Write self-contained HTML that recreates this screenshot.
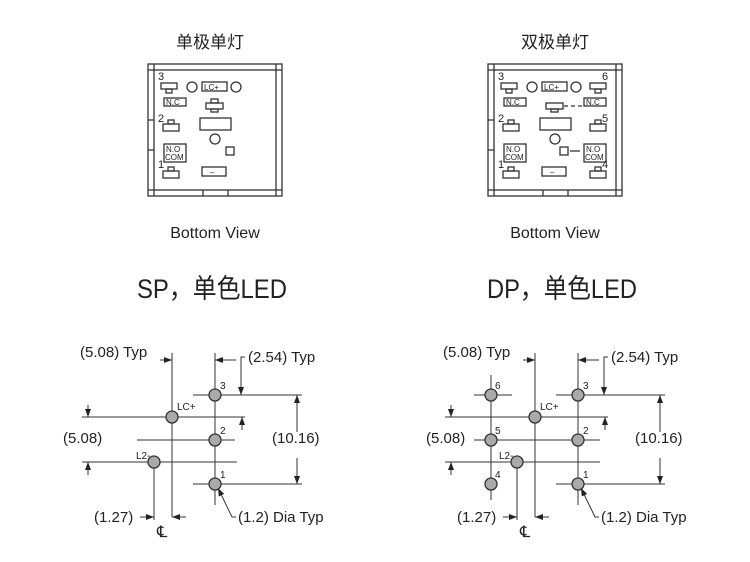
<!DOCTYPE html>
<html><head><meta charset="utf-8"><style>
html,body{margin:0;padding:0;background:#fff;width:750px;height:562px;overflow:hidden}
svg{display:block}
text{font-family:"Liberation Sans","Noto Sans CJK SC",sans-serif;fill:#222}
</style></head><body>
<svg width="750" height="562" viewBox="0 0 750 562" xmlns="http://www.w3.org/2000/svg">
<g stroke="#333" fill="none" stroke-width="1.3">
<!-- SP box -->
<g>
<rect x="148" y="64" width="134" height="132"/>
<rect x="154" y="70" width="122" height="120"/>
<path d="M148 70h6M276 70h6M154 64v6M276 64v6M148 190h6M276 190h6M154 190v6M276 190v6M228 190v6M203 190v6M148 120h6M148 150h6"/>
<rect x="161" y="83" width="16" height="6"/><rect x="166" y="89" width="6" height="4"/>
<circle cx="192" cy="87" r="5"/><rect x="202" y="82" width="25" height="9"/><circle cx="236" cy="87" r="5"/>
<rect x="164" y="98" width="22" height="8"/>
<rect x="206" y="103" width="17" height="6"/><rect x="211" y="99" width="7" height="4"/><rect x="211" y="109" width="7" height="3"/>
<rect x="163" y="124" width="16" height="7"/><rect x="168" y="120" width="6" height="4"/>
<rect x="200" y="118" width="31" height="12"/>
<circle cx="215" cy="139" r="5"/>
<rect x="164" y="144" width="22" height="18"/>
<rect x="226" y="147" width="8" height="8"/>
<rect x="163" y="171" width="16" height="7"/><rect x="168" y="167" width="6" height="4"/>
<rect x="202" y="167" width="24" height="9"/>
</g>
<!-- DP box -->
<g transform="translate(340,0)">
<rect x="148" y="64" width="134" height="132"/>
<rect x="154" y="70" width="122" height="120"/>
<path d="M148 70h6M276 70h6M154 64v6M276 64v6M148 190h6M276 190h6M154 190v6M276 190v6M228 190v6M203 190v6M148 120h6M148 150h6"/>
<rect x="161" y="83" width="16" height="6"/><rect x="166" y="89" width="6" height="4"/>
<circle cx="192" cy="87" r="5"/><rect x="202" y="82" width="25" height="9"/><circle cx="236" cy="87" r="5"/>
<rect x="250" y="83" width="16" height="6"/><rect x="255" y="89" width="6" height="4"/>
<rect x="164" y="98" width="22" height="8"/>
<rect x="244" y="98" width="22" height="8"/>
<rect x="206" y="103" width="17" height="6"/><rect x="211" y="109" width="7" height="3"/>
<path d="M224 106h18" stroke-dasharray="4 3"/>
<rect x="163" y="124" width="16" height="7"/><rect x="168" y="120" width="6" height="4"/>
<rect x="250" y="124" width="16" height="7"/><rect x="255" y="120" width="6" height="4"/>
<rect x="200" y="118" width="31" height="12"/>
<circle cx="215" cy="139" r="5"/>
<rect x="164" y="144" width="22" height="18"/>
<rect x="244" y="144" width="22" height="18"/>
<rect x="220" y="147" width="8" height="8"/><path d="M230 151h10"/>
<rect x="163" y="171" width="16" height="7"/><rect x="168" y="167" width="6" height="4"/>
<rect x="250" y="171" width="16" height="7"/><rect x="255" y="167" width="6" height="4"/>
<rect x="202" y="167" width="24" height="9"/>
</g>
</g>
<g font-size="9">
<text x="158" y="80" font-size="11">3</text><text x="158" y="122" font-size="11">2</text><text x="158" y="168" font-size="11">1</text>
<text x="204" y="90" font-size="8">LC+</text><text x="166" y="105" font-size="8">N.C</text>
<text x="166" y="152" font-size="8">N.O</text><text x="165" y="160" font-size="8">COM</text><text x="210" y="175" font-size="8">–</text>
<text x="498" y="80" font-size="11">3</text><text x="498" y="122" font-size="11">2</text><text x="498" y="168" font-size="11">1</text>
<text x="602" y="80" font-size="11">6</text><text x="602" y="122" font-size="11">5</text><text x="602" y="168" font-size="11">4</text>
<text x="544" y="90" font-size="8">LC+</text><text x="506" y="105" font-size="8">N.C</text><text x="586" y="105" font-size="8">N.C</text>
<text x="506" y="152" font-size="8">N.O</text><text x="505" y="160" font-size="8">COM</text>
<text x="586" y="152" font-size="8">N.O</text><text x="585" y="160" font-size="8">COM</text><text x="550" y="175" font-size="8">–</text>
</g>
<text x="210" y="48" font-size="17" text-anchor="middle">单极单灯</text>
<text x="555" y="48" font-size="17" text-anchor="middle">双极单灯</text>
<text x="215" y="238" font-size="16" text-anchor="middle">Bottom View</text>
<text x="555" y="238" font-size="16" text-anchor="middle">Bottom View</text>
<text x="137" y="298" font-size="27" textLength="150" lengthAdjust="spacingAndGlyphs">SP，单色LED</text>
<text x="487" y="298" font-size="27" textLength="150" lengthAdjust="spacingAndGlyphs">DP，单色LED</text>

<defs><marker id="a" markerWidth="8" markerHeight="6" refX="8" refY="3" orient="auto" markerUnits="userSpaceOnUse"><path d="M0 0L8 3L0 6z" fill="#222"/></marker></defs>
<!-- SP dims -->
<g stroke="#333" stroke-width="1" fill="none">
<path d="M172 353V517M215 353V505M154 462V520"/>
<path d="M193 395H302M82 417H245M137 440H235M82 462H237M193 484H302"/>
<path d="M160 360H172" marker-end="url(#a)"/><path d="M236 360H215" marker-end="url(#a)"/>
<path d="M245 357H241V395" marker-end="url(#a)"/>
<path d="M297 432V395" marker-end="url(#a)"/><path d="M297 458V484" marker-end="url(#a)"/>
<path d="M88 405V417" marker-end="url(#a)"/><path d="M88 475V462" marker-end="url(#a)"/>
<path d="M242 430V417" marker-end="url(#a)"/>
<path d="M140 517H154" marker-end="url(#a)"/><path d="M186 517H172" marker-end="url(#a)"/>
<path d="M236 517H232L218 488" marker-end="url(#a)"/>
</g>
<g fill="#aaa" stroke="#333" stroke-width="1.3">
<circle cx="215" cy="395" r="6"/><circle cx="215" cy="440" r="6"/><circle cx="215" cy="484" r="6"/>
<circle cx="172" cy="417" r="6"/><circle cx="154" cy="462" r="6"/>
</g>
<!-- DP dims -->
<g stroke="#333" stroke-width="1" fill="none">
<path d="M535 353V517M578 353V505M517 462V520M491 375V500"/>
<path d="M556 395H665M445 417H608M474 395H512M474 440H600M445 462H600M556 484H665"/>
<path d="M523 360H535" marker-end="url(#a)"/><path d="M599 360H578" marker-end="url(#a)"/>
<path d="M608 357H604V395" marker-end="url(#a)"/>
<path d="M660 432V395" marker-end="url(#a)"/><path d="M660 458V484" marker-end="url(#a)"/>
<path d="M451 405V417" marker-end="url(#a)"/><path d="M451 475V462" marker-end="url(#a)"/>
<path d="M605 430V417" marker-end="url(#a)"/>
<path d="M503 517H517" marker-end="url(#a)"/><path d="M549 517H535" marker-end="url(#a)"/>
<path d="M599 517H595L581 488" marker-end="url(#a)"/>
</g>
<g fill="#aaa" stroke="#333" stroke-width="1.3">
<circle cx="578" cy="395" r="6"/><circle cx="578" cy="440" r="6"/><circle cx="578" cy="484" r="6"/>
<circle cx="535" cy="417" r="6"/><circle cx="517" cy="462" r="6"/>
<circle cx="491" cy="395" r="6"/><circle cx="491" cy="440" r="6"/><circle cx="491" cy="484" r="6"/>
</g>
<g font-size="15">
<text x="80" y="357">(5.08) Typ</text><text x="248" y="362">(2.54) Typ</text>
<text x="63" y="443">(5.08)</text><text x="272" y="443">(10.16)</text>
<text x="94" y="522">(1.27)</text><text x="238" y="522">(1.2) Dia Typ</text>
<text x="157" y="537" font-size="16">℄</text>
<text x="443" y="357">(5.08) Typ</text><text x="611" y="362">(2.54) Typ</text>
<text x="426" y="443">(5.08)</text><text x="635" y="443">(10.16)</text>
<text x="457" y="522">(1.27)</text><text x="601" y="522">(1.2) Dia Typ</text>
<text x="520" y="537" font-size="16">℄</text>
</g>
<g font-size="10">
<text x="177" y="410">LC+</text><text x="220" y="389">3</text><text x="220" y="434">2</text><text x="220" y="478">1</text><text x="136" y="459">L2-</text>
<text x="540" y="410">LC+</text><text x="583" y="389">3</text><text x="583" y="434">2</text><text x="583" y="478">1</text><text x="499" y="459">L2-</text>
<text x="495" y="389">6</text><text x="495" y="434">5</text><text x="495" y="478">4</text>
</g>
</svg>
</body></html>
